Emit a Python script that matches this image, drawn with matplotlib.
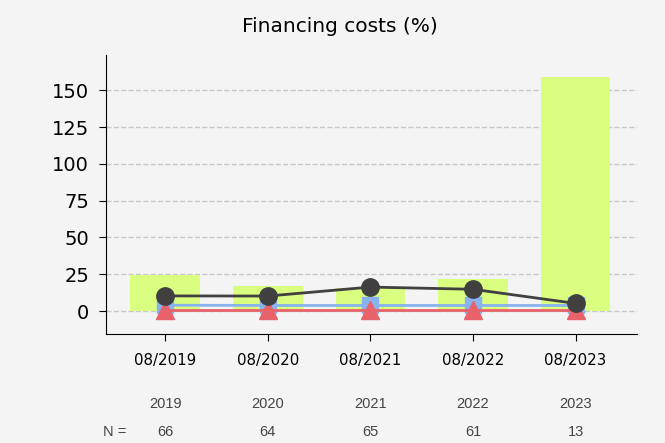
import numpy as np
import matplotlib.pyplot as plt

# data
labels = ['08/2019', '08/2020', '08/2021', '08/2022', '08/2023']
years = ['2019', '2020', '2021', '2022', '2023']
n_obs = [66, 64, 65, 61, 13]
bars = [24.5, 17, 16, 21.5, 159]
black = [10.3, 10.2, 16.3, 14.8, 5.2]
blue = [4.0, 3.8, 3.8, 3.8, 3.8]
red = [0.5, 0.5, 0.5, 0.5, 0.5]

bg = '#f4f4f4'
fig = plt.figure(figsize=(6.65, 4.43), dpi=100, facecolor=bg)
ax = fig.add_axes([0.159, 0.246, 0.799, 0.630], facecolor=bg)

x = np.arange(len(labels))
ax.bar(x, bars, width=0.68, color='#d9fe80', zorder=2)
ax.plot(x, blue, color='#88b3ef', lw=2, marker='s', ms=12, zorder=3)
ax.plot(x, red, color='#e8626a', lw=2, marker='^', ms=13, zorder=4)
ax.plot(x, black, color='#404040', lw=2, marker='o', ms=12.5, zorder=5)

ax.set_xlim(-0.58, 4.6)
ax.set_ylim(-15.6, 174)
ax.set_yticks([0, 25, 50, 75, 100, 125, 150])
ax.set_xticks(x)
ax.set_xticklabels(labels, fontsize=10.8)
ax.tick_params(axis='y', labelsize=14, length=5, pad=7)
ax.tick_params(axis='x', length=5, pad=9)
ax.grid(axis='y', color='#c8c8c8', ls='--', lw=1, zorder=0)
ax.spines['top'].set_visible(False)
ax.spines['right'].set_visible(False)
fig.text(340 / 665, 1 - 27 / 443, 'Financing costs (%)', ha='center', va='center', fontsize=14.5)

# year / N table below the axis
for i in range(len(years)):
    ax.text(x[i], -0.251, years[i], transform=ax.get_xaxis_transform(),
            ha='center', va='center', fontsize=10.5, color='#444444', family='Liberation Sans')
    ax.text(x[i], -0.351, str(n_obs[i]), transform=ax.get_xaxis_transform(),
            ha='center', va='center', fontsize=10.5, color='#444444', family='Liberation Sans')
fig.text(115 / 665, 1 - 432 / 443, 'N =', ha='center', va='center', fontsize=10.5,
         color='#444444', family='Liberation Sans')

fig.savefig('out.png', dpi=100, facecolor=bg)
